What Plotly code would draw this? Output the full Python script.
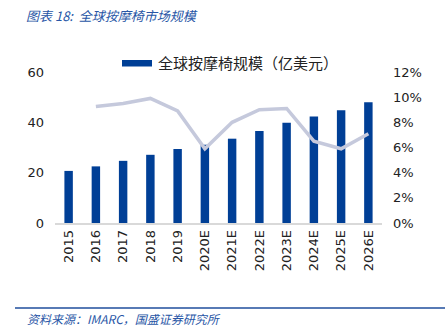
import plotly.graph_objects as go

years = ["2015", "2016", "2017", "2018", "2019", "2020E", "2021E", "2022E", "2023E", "2024E", "2025E", "2026E"]
market_size = [20.7, 22.5, 24.7, 27.1, 29.4, 31.1, 33.5, 36.6, 39.8, 42.3, 44.8, 48.0]
growth = [None, 0.0925, 0.095, 0.099, 0.089, 0.059, 0.080, 0.090, 0.091, 0.065, 0.059, 0.071]
legend_label = "全球按摩椅规模（亿美元）"

BLUE = "#003f96"
TEXTBLUE = "#2856a6"

fig = go.Figure()
fig.add_trace(go.Bar(
    x=years, y=market_size, name=legend_label, showlegend=False,
    marker=dict(color=BLUE, line=dict(width=0)), width=0.31,
))
fig.add_trace(go.Scatter(
    x=years, y=growth, yaxis="y2", mode="lines", showlegend=False,
    line=dict(color="#c5c9dc", width=3.5), connectgaps=False,
))

L, R, T, B = 55, 63, 72, 107
W, H = 445, 330
pw, ph = W - L - R, H - T - B

def px(x):
    return (x - L) / pw

def py(y):
    return (H - B - y) / ph

tickfont = dict(family="DejaVu Sans, Verdana, sans-serif", size=13, color="#222222")

fig.update_layout(
    width=W, height=H,
    margin=dict(l=L, r=R, t=T, b=B),
    paper_bgcolor="white", plot_bgcolor="white",
    xaxis=dict(
        type="category", tickangle=-90, tickfont=tickfont,
        showline=True, linecolor="#d9d9d9", linewidth=1.5,
        showgrid=False, ticks="", range=[-0.5, 11.5],
    ),
    yaxis=dict(
        range=[0, 60], dtick=20, tickfont=tickfont, showgrid=False,
        zeroline=False, ticks="", ticklabelstandoff=10,
    ),
    yaxis2=dict(
        range=[0, 0.12], dtick=0.02, tickformat=".0%", overlaying="y", side="right",
        tickfont=tickfont, showgrid=False, zeroline=False, ticks="", ticklabelstandoff=10,
    ),
    showlegend=False,
    annotations=[
        dict(text="<i>图表 18:  全球按摩椅市场规模</i>", x=px(24), y=py(15),
             xref="paper", yref="paper", xanchor="left", yanchor="middle", showarrow=False,
             font=dict(family="Noto Sans CJK SC", size=13, color=TEXTBLUE)),
        dict(text=legend_label, x=px(156), y=py(63),
             xref="paper", yref="paper", xanchor="left", yanchor="middle", showarrow=False,
             font=dict(family="Noto Sans CJK SC", size=15, color="#222222")),
        dict(text="<i>资料来源：IMARC，国盛证券研究所</i>", x=px(25), y=py(318),
             xref="paper", yref="paper", xanchor="left", yanchor="middle", showarrow=False,
             font=dict(family="Noto Sans CJK SC", size=12, color=TEXTBLUE)),
    ],
    shapes=[
        dict(type="rect", xref="paper", yref="paper", x0=px(122), x1=px(152), y0=py(66.5), y1=py(60),
             fillcolor=BLUE, line=dict(width=0)),
        dict(type="line", xref="paper", yref="paper", x0=px(15), x1=px(445), y0=py(308), y1=py(308),
             line=dict(color="#1f4e9c", width=1.5)),
    ],
)

fig.write_html("out.html")
